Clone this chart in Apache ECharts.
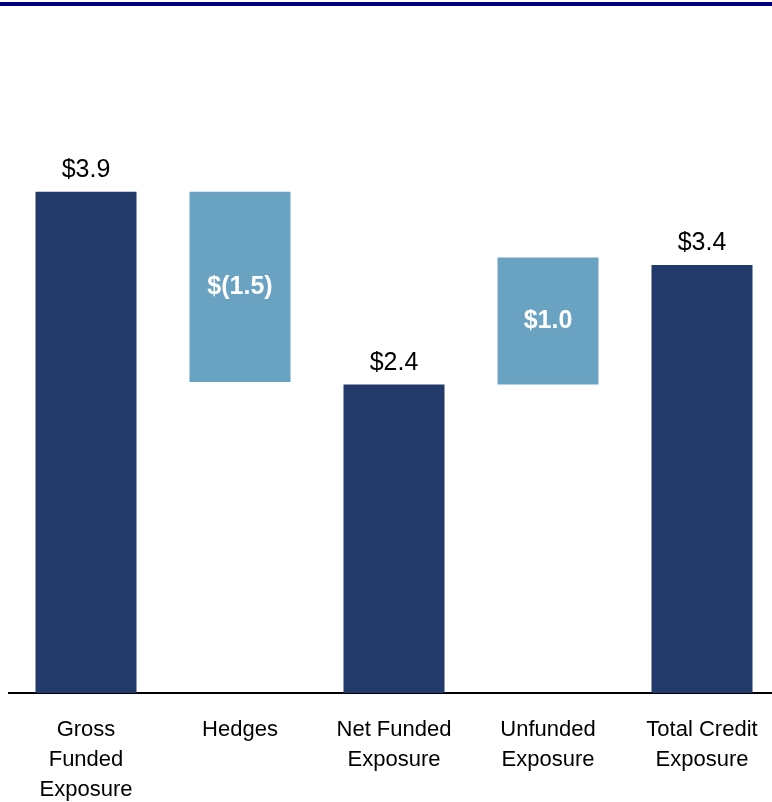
<!DOCTYPE html>
<html>
<head>
<meta charset="utf-8">
<script src="https://cdn.jsdelivr.net/npm/echarts@6/dist/echarts.min.js"></script>
<style>
  html, body { margin: 0; padding: 0; background: #fff; }
  #main { width: 772px; height: 802px; }
</style>
</head>
<body>
<div id="main"></div>
<script>
// categories along the x axis
const categories = ['Gross\nFunded\nExposure', 'Hedges', 'Net Funded\nExposure', 'Unfunded\nExposure', 'Total Credit\nExposure'];
// invisible floor under each bar (waterfall offset)
const baseValues = [0, 2.42, 0, 2.4, 0];
// visible bar heights
const barValues = [3.9, 1.48, 2.4, 0.99, 3.33];
// printed labels
const labelTexts = ['$3.9', '$(1.5)', '$2.4', '$1.0', '$3.4'];
// true = total bar (dark, label on top), false = step bar (light, label inside)
const isTotal = [true, false, true, false, true];

const DARK = '#213A6A';
const LIGHT = '#69A3C1';
const FONT = 'Liberation Sans, Arial, sans-serif';

let chart = echarts.init(document.getElementById('main'));

let barData = barValues.map(function (v, i) {
  return {
    value: v,
    itemStyle: { color: isTotal[i] ? DARK : LIGHT },
    label: isTotal[i]
      ? { position: 'top', distance: 9, color: '#000', fontWeight: 'normal' }
      : { position: 'inside', color: '#fff', fontWeight: 'bold' }
  };
});

let option = {
  animation: false,
  graphic: [
    { type: 'rect', left: 0, top: 2, shape: { width: 772, height: 4 }, style: { fill: '#000080' } },
    { type: 'rect', left: 8, top: 692, shape: { width: 764, height: 2 }, style: { fill: '#000' } }
  ],
  grid: { left: 9, width: 770, top: 50.5, bottom: 109, outerBoundsMode: 'none', containLabel: false },
  xAxis: {
    type: 'category',
    data: categories,
    axisLine: { show: false },
    axisTick: { show: false },
    axisLabel: {
      interval: 0,
      margin: 22,
      color: '#000',
      fontFamily: FONT,
      fontSize: 22,
      lineHeight: 30
    }
  },
  yAxis: {
    type: 'value',
    min: 0,
    max: 5,
    show: false,
    splitLine: { show: false }
  },
  series: [
    {
      type: 'bar',
      stack: 'w',
      data: baseValues,
      barWidth: 101,
      itemStyle: { color: 'transparent' },
      silent: true
    },
    {
      type: 'bar',
      stack: 'w',
      data: barData,
      barWidth: 101,
      label: {
        show: true,
        fontFamily: FONT,
        fontSize: 25,
        formatter: function (p) { return labelTexts[p.dataIndex]; }
      }
    }
  ]
};

chart.setOption(option);
</script>
</body>
</html>
